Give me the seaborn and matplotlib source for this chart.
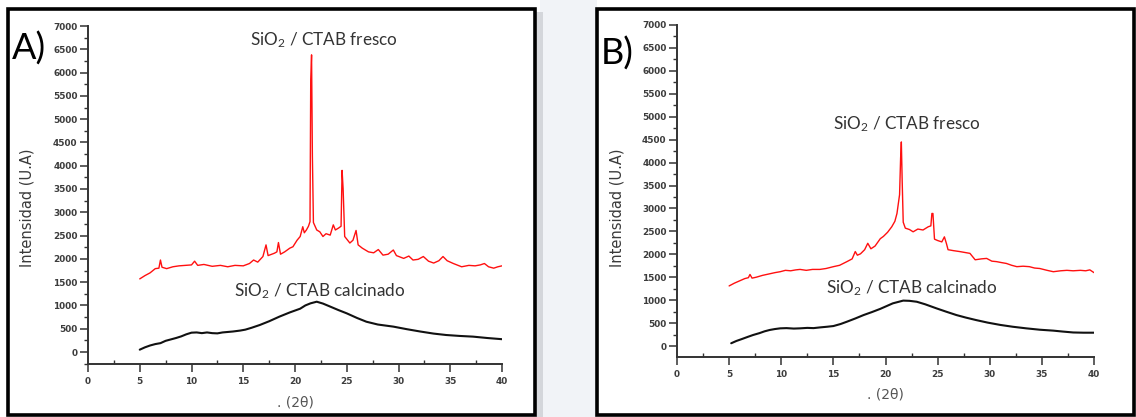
import numpy as np
import pandas as pd
import matplotlib
matplotlib.use("Agg")
import matplotlib.pyplot as plt
from matplotlib.patches import Rectangle
from matplotlib.ticker import MultipleLocator
import seaborn as sns

# ---- diffraction patterns (2theta, intensity) ----
a_fresh_2t = [5.0, 5.5, 6.0, 6.5, 6.85, 7.0, 7.15, 7.6, 8.2, 8.8, 9.4, 10.0, 10.3, 10.6,
              11.2, 12.0, 12.8, 13.5, 14.2, 15.0, 15.6, 16.0, 16.4, 16.9, 17.2, 17.4,
              18.0, 18.25, 18.4, 18.6, 19.0, 19.5, 19.8, 20.2, 20.5, 20.75, 20.9, 21.1,
              21.3, 21.45, 21.52, 21.6, 21.68, 21.78, 22.1, 22.4, 22.7, 23.0, 23.4, 23.7,
              23.9, 24.2, 24.45, 24.55, 24.65, 24.8, 25.3, 25.6, 25.9, 26.1, 26.5, 27.1,
              27.6, 28.05, 28.5, 29.0, 29.5, 29.8, 30.5, 31.0, 31.4, 31.9, 32.4, 32.9,
              33.4, 33.9, 34.3, 34.7, 35.3, 36.1, 36.8, 37.4, 37.9, 38.3, 38.7, 39.2,
              39.6, 40.0]
a_fresh_int = [1570, 1640, 1700, 1790, 1800, 1975, 1820, 1790, 1830, 1850, 1860, 1870, 1950, 1860,
               1880, 1840, 1860, 1830, 1860, 1850, 1900, 1975, 1930, 2050, 2300, 2070,
               2120, 2150, 2350, 2100, 2150, 2230, 2260, 2400, 2480, 2690, 2560, 2620,
               2700, 2800, 5850, 6380, 4200, 2780, 2620, 2580, 2480, 2540, 2510, 2730,
               2620, 2660, 2700, 3900, 3500, 2480, 2340, 2400, 2610, 2300, 2230, 2150,
               2130, 2200, 2080, 2100, 2190, 2070, 2010, 2060, 1975, 1990, 2050, 1950,
               1910, 1960, 2050, 1960, 1900, 1830, 1860, 1850, 1870, 1900, 1830, 1800,
               1830, 1850]

a_calc_2t = [5.0, 5.5, 6.0, 6.5, 7.0, 7.5, 8.0, 8.5, 9.0, 9.5, 10.0, 10.5, 11.0, 11.5, 12.0,
             12.5, 13.0, 13.5, 14.0, 14.7, 15.2, 15.8, 16.6, 17.5, 18.5, 19.5, 20.5, 21.0,
             21.5, 22.1, 22.7, 23.4, 24.2, 25.0, 26.0, 26.9, 28.0, 29.5, 30.8, 32.1, 33.4,
             34.6, 35.9, 37.2, 38.6, 40.0]
a_calc_int = [50, 100, 140, 170, 190, 240, 270, 300, 335, 380, 415, 420, 405, 420, 405,
              400, 420, 430, 440, 460, 480, 520, 580, 660, 760, 850, 930, 1000,
              1045, 1080, 1040, 975, 900, 830, 730, 650, 590, 545, 490, 440, 395,
              365, 345, 330, 300, 275]

b_fresh_2t = [5.0, 5.5, 6.0, 6.5, 6.85, 7.0, 7.2, 7.6, 8.2, 8.8, 9.4, 9.9, 10.4, 10.9, 11.4,
              11.8, 12.4, 13.0, 13.7, 14.3, 15.0, 15.6, 16.3, 16.8, 17.1, 17.3, 17.6, 18.0,
              18.3, 18.6, 19.0, 19.5, 19.8, 20.2, 20.6, 20.9, 21.1, 21.35, 21.45, 21.52,
              21.6, 21.7, 21.9, 22.3, 22.65, 23.1, 23.6, 24.1, 24.35, 24.45, 24.55, 24.7,
              25.0, 25.4, 25.65, 25.85, 26.0, 26.5, 27.1, 27.6, 28.1, 28.6, 29.2, 29.7,
              30.2, 30.65, 31.1, 31.6, 32.1, 32.6, 33.2, 33.8, 34.3, 34.8, 35.5, 36.1,
              36.8, 37.4, 38.0, 38.7, 39.2, 39.6, 40.0]
b_fresh_int = [1310, 1370, 1420, 1470, 1490, 1560, 1480, 1500, 1540, 1570, 1600, 1620, 1650, 1640, 1660,
               1670, 1650, 1670, 1670, 1690, 1730, 1760, 1840, 1900, 2060, 1980, 2010, 2100,
               2240, 2120, 2180, 2340, 2390, 2480, 2600, 2720, 2890, 3300, 4100, 4450,
               3600, 2700, 2570, 2540, 2490, 2550, 2530, 2600, 2620, 2890, 2890, 2330,
               2300, 2270, 2380, 2230, 2100, 2080, 2060, 2040, 2020, 1880, 1900, 1910,
               1850, 1840, 1820, 1800, 1760, 1730, 1740, 1730, 1700, 1690, 1650, 1620,
               1640, 1650, 1640, 1650, 1640, 1660, 1600]

b_calc_2t = [5.2, 5.7, 6.2, 6.8, 7.3, 7.9, 8.4, 8.9, 9.4, 9.9, 10.5, 11.2, 11.8, 12.5, 13.1,
             13.7, 14.4, 15.0, 15.7, 16.3, 17.1, 17.9, 18.7, 19.5, 20.1, 20.7, 21.2, 21.7,
             22.3, 23.0, 23.8, 24.9, 25.8, 26.8, 27.7, 28.7, 29.8, 31.0, 32.2, 33.5, 34.8,
             36.1, 37.0, 38.0, 39.0, 40.0]
b_calc_int = [60, 110, 150, 200, 240, 280, 320, 350, 370, 385, 390, 380, 385, 395, 390,
              405, 420, 435, 480, 530, 600, 675, 740, 810, 870, 930, 960, 990,
              985, 965, 910, 820, 750, 675, 620, 565, 510, 460, 420, 385, 355,
              335, 315, 295, 290, 290]

panel_tags = ["A)", "B)"]
series_names = ["SiO$_2$ / CTAB fresco", "SiO$_2$ / CTAB calcinado"]
y_label = "Intensidad (U.A)"
x_label = ". (2\u03b8)"
x_ticks = list(range(0, 41, 5))
y_ticks = list(range(0, 7001, 500))

W, H = 1136, 417
sns.set_theme(style="ticks")
plt.rcParams["font.family"] = ["DejaVu Sans"]
plt.rcParams["mathtext.default"] = "regular"

fig = plt.figure(figsize=(W / 100, H / 100), dpi=100)
fig.patch.set_facecolor("white")


def box(x0, y0, x1, y1):
    """pixel box (top-left origin) -> figure fraction [l, b, w, h]"""
    return [x0 / W, 1 - y1 / H, (x1 - x0) / W, (y1 - y0) / H]


# soft backdrop between the two panels and drop shadow
l, b, w, h = box(540, 0, 597, H)
fig.patches.append(Rectangle((l, b), w, h, transform=fig.transFigure,
                             facecolor="#f1f3f7", edgecolor="none", zorder=0))
l, b, w, h = box(536, 12, 543, 417)
fig.patches.append(Rectangle((l, b), w, h, transform=fig.transFigure,
                             facecolor="#c9cbd0", edgecolor="none", zorder=0, alpha=0.7))

# panel frames
for x0, x1 in [(8, 535), (597, 1134)]:
    l, b, w, h = box(x0, 9, x1, 415)
    fig.patches.append(Rectangle((l, b), w, h, transform=fig.transFigure,
                                 facecolor="white", edgecolor="black", linewidth=2.6, zorder=1))

panels = [
    dict(px=(88, 502), y0=352, y7000=26, ybot=364,
         fresh=(a_fresh_2t, a_fresh_int), calc=(a_calc_2t, a_calc_int),
         fresh_txt=(22.8, 6700), calc_txt=(22.4, 1310), tag_xy=(28.5, 48.5)),
    dict(px=(677, 1094), y0=346, y7000=25, ybot=357,
         fresh=(b_fresh_2t, b_fresh_int), calc=(b_calc_2t, b_calc_int),
         fresh_txt=(22.0, 4840), calc_txt=(22.5, 1265), tag_xy=(617, 53.5)),
]

tick_col = "#3c3c3c"
for tag, p in zip(panel_tags, panels):
    x0, x1 = p["px"]
    ax = fig.add_axes(box(x0, p["y7000"], x1, p["ybot"]), zorder=2)
    ax.set_facecolor("none")
    per_px = 7000 / (p["y0"] - p["y7000"])
    ax.set_xlim(0, 40)
    ax.set_ylim(-(p["ybot"] - p["y0"]) * per_px, 7000)

    fresh = pd.DataFrame({"2t": p["fresh"][0], "I": p["fresh"][1]})
    calc = pd.DataFrame({"2t": p["calc"][0], "I": p["calc"][1]})
    sns.lineplot(data=fresh, x="2t", y="I", ax=ax, color="#ff1010", linewidth=1.0,
                 sort=False, estimator=None)
    sns.lineplot(data=calc, x="2t", y="I", ax=ax, color="#111111", linewidth=1.5,
                 sort=False, estimator=None)

    sns.despine(ax=ax)
    for s in ("left", "bottom"):
        ax.spines[s].set_linewidth(1.4)
        ax.spines[s].set_color("#333333")

    ax.set_xticks(x_ticks)
    ax.set_yticks(y_ticks)
    ax.xaxis.set_minor_locator(MultipleLocator(2.5))
    ax.yaxis.set_minor_locator(MultipleLocator(250))
    ax.tick_params(axis="both", which="major", direction="out", length=5.5, width=1.1,
                   color="#333333", labelsize=6.4, labelcolor=tick_col, pad=2)
    ax.tick_params(axis="both", which="minor", direction="out", length=3, width=1.0,
                   color="#333333")
    ax.tick_params(axis="x", which="minor", direction="in")
    for lab in ax.get_xticklabels() + ax.get_yticklabels():
        lab.set_fontweight("bold")
    ax.tick_params(axis="x", pad=4)

    ax.set_xlabel(x_label, fontsize=10, color="#555555")
    ax.set_ylabel(y_label, fontsize=10.5, color="#3a3a3a")
    ax.yaxis.set_label_coords(-53 / (x1 - x0), (p["ybot"] - 208) / (p["ybot"] - p["y7000"]))
    ax.xaxis.set_label_coords(0.5, -31 / (p["ybot"] - p["y7000"]))

    ax.text(*p["fresh_txt"], series_names[0], ha="center", va="center",
            fontsize=12.3, color="#333333", family="Lato")
    ax.text(*p["calc_txt"], series_names[1], ha="center", va="center",
            fontsize=12.3, color="#333333", family="Lato")

    tx, ty = p["tag_xy"]
    fig.text(tx / W, 1 - ty / H, tag, ha="center", va="center", fontsize=26,
             color="black", family="Lato")

fig.savefig("out.png", dpi=100)
